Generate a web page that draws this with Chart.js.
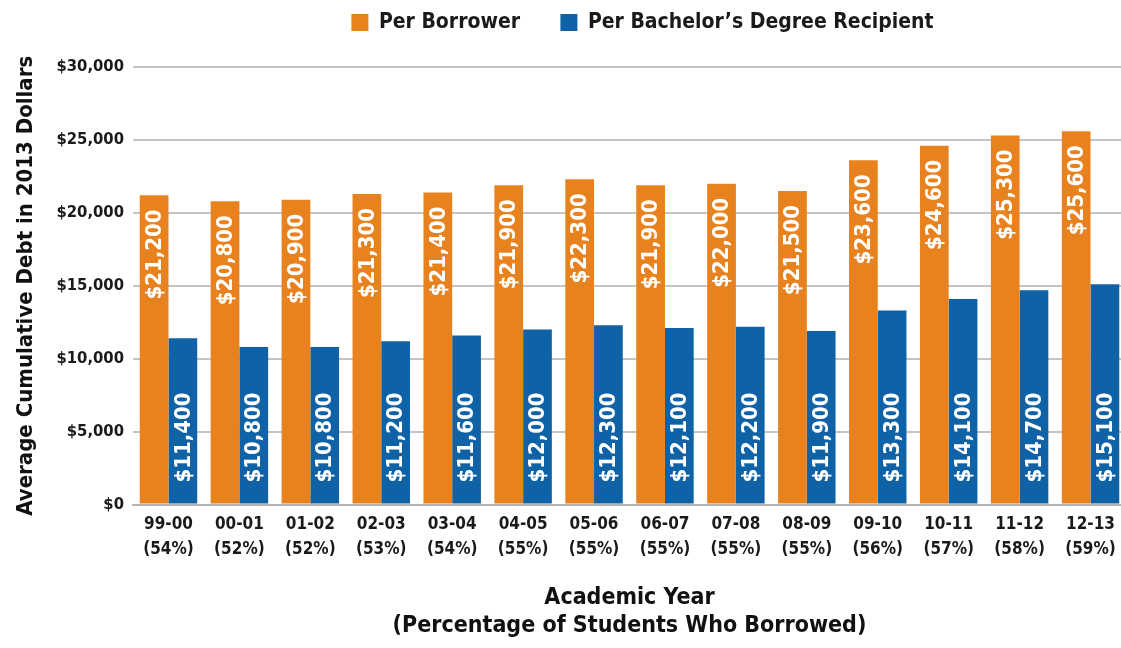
<!DOCTYPE html>
<html>
<head>
<meta charset="utf-8">
<script src="https://cdn.jsdelivr.net/npm/chart.js@4"></script>
<style>
  html, body { margin: 0; padding: 0; background: #fff; overflow: hidden; }
  #wrap { width: 1126px; height: 648px; }
</style>
</head>
<body>
<div id="wrap"><canvas id="chart1"></canvas></div>
<script>
// Datos
const years = ['99-00', '00-01', '01-02', '02-03', '03-04', '04-05', '05-06', '06-07', '07-08', '08-09', '09-10', '10-11', '11-12', '12-13']
const borrowedPct = ['(54%)', '(52%)', '(52%)', '(53%)', '(54%)', '(55%)', '(55%)', '(55%)', '(55%)', '(55%)', '(56%)', '(57%)', '(58%)', '(59%)']
const perBorrower = [21200, 20800, 20900, 21300, 21400, 21900, 22300, 21900, 22000, 21500, 23600, 24600, 25300, 25600]
const perRecipient = [11400, 10800, 10800, 11200, 11600, 12000, 12300, 12100, 12200, 11900, 13300, 14100, 14700, 15100]
const yTicks = [0, 5000, 10000, 15000, 20000, 25000, 30000]

const FONT = '"DejaVu Sans Condensed", "Liberation Sans Narrow", sans-serif'
const ORANGE = '#E8821E'
const BLUE = '#0F62A5'

Chart.defaults.font.family = FONT
Chart.defaults.color = '#1a1a1a'

const money = v => '$' + v.toLocaleString('en-US')

// Etiquetas verticales dentro de las barras
const barLabels = {
    id: 'barLabels',
    afterDatasetsDraw(chart) {
        const ctx = chart.ctx
        ctx.save()
        ctx.fillStyle = '#fff'
        ctx.font = 'bold 22px ' + FONT
        ctx.textBaseline = 'middle'
        chart.data.datasets.forEach((ds, i) => {
            chart.getDatasetMeta(i).data.forEach((bar, j) => {
                ctx.save()
                if (i === 0) {
                    ctx.translate(bar.x, bar.y + 14)
                    ctx.rotate(-Math.PI / 2)
                    ctx.textAlign = 'right'
                } else {
                    ctx.translate(bar.x, bar.base - 21)
                    ctx.rotate(-Math.PI / 2)
                    ctx.textAlign = 'left'
                }
                ctx.fillText(money(ds.data[j]), 0, 1)
                ctx.restore()
            })
        })
        ctx.restore()
    }
}

// Más espacio bajo la leyenda y leyenda centrada sobre el área del gráfico
const legendSpace = {
    id: 'legendSpace',
    beforeInit(chart) {
        const fit = chart.legend.fit
        chart.legend.fit = function () {
            fit.bind(chart.legend)()
            this.height += 24
        }
    },
    afterLayout(chart) {
        chart.legend.left = chart.chartArea.left + 26
        chart.legend.right = chart.chartArea.right
    }
}

const data = {
    labels: years.map((y, i) => [y, borrowedPct[i]]),
    datasets: [
        {
            label: 'Per Borrower',
            data: perBorrower,
            backgroundColor: ORANGE,
            categoryPercentage: 0.81,
            barPercentage: 1.0
        },
        {
            label: 'Per Bachelor\u2019s Degree Recipient',
            data: perRecipient,
            backgroundColor: BLUE,
            categoryPercentage: 0.81,
            barPercentage: 1.0
        }
    ]
}

const options = {
    responsive: true,
    maintainAspectRatio: false,
    animation: false,
    layout: { padding: { left: 9, right: 0, top: 0, bottom: 4 } },
    plugins: {
        legend: {
            position: 'top',
            labels: {
                boxWidth: 17,
                boxHeight: 17,
                padding: 12,
                font: { size: 21, weight: 'bold' },
                color: '#1a1a1a',
                // separación extra entre las dos entradas
                generateLabels(chart) {
                    const items = Chart.defaults.plugins.legend.labels.generateLabels(chart)
                    items[0].text = items[0].text + '\u2003\u2002'
                    return items
                }
            }
        },
        tooltip: { enabled: false }
    },
    scales: {
        x: {
            grid: { display: false },
            border: { color: '#b5b5b5', width: 2 },
            ticks: { font: { size: 17, weight: 'bold', lineHeight: 1.45 }, color: '#1a1a1a', maxRotation: 0, padding: 0 },
            title: {
                display: true,
                text: ['Academic Year', '(Percentage of Students Who Borrowed)'],
                font: { size: 23, weight: 'bold', lineHeight: 1.22 },
                color: '#111',
                padding: { top: 22 }
            }
        },
        y: {
            min: 0,
            max: 30000,
            afterBuildTicks: axis => { axis.ticks = yTicks.map(v => ({ value: v })) },
            grid: { color: '#c4c4c4', lineWidth: 2, drawTicks: false },
            border: { display: false },
            ticks: { font: { size: 16.5, weight: 'bold' }, color: '#1a1a1a', padding: 9, callback: v => money(v) },
            title: {
                display: true,
                text: 'Average Cumulative Debt in 2013 Dollars',
                font: { size: 22, weight: 'bold' },
                color: '#111',
                padding: { bottom: 8 }
            }
        }
    }
}

new Chart('chart1', { type: 'bar', data, options, plugins: [barLabels, legendSpace] })
</script>
</body>
</html>
